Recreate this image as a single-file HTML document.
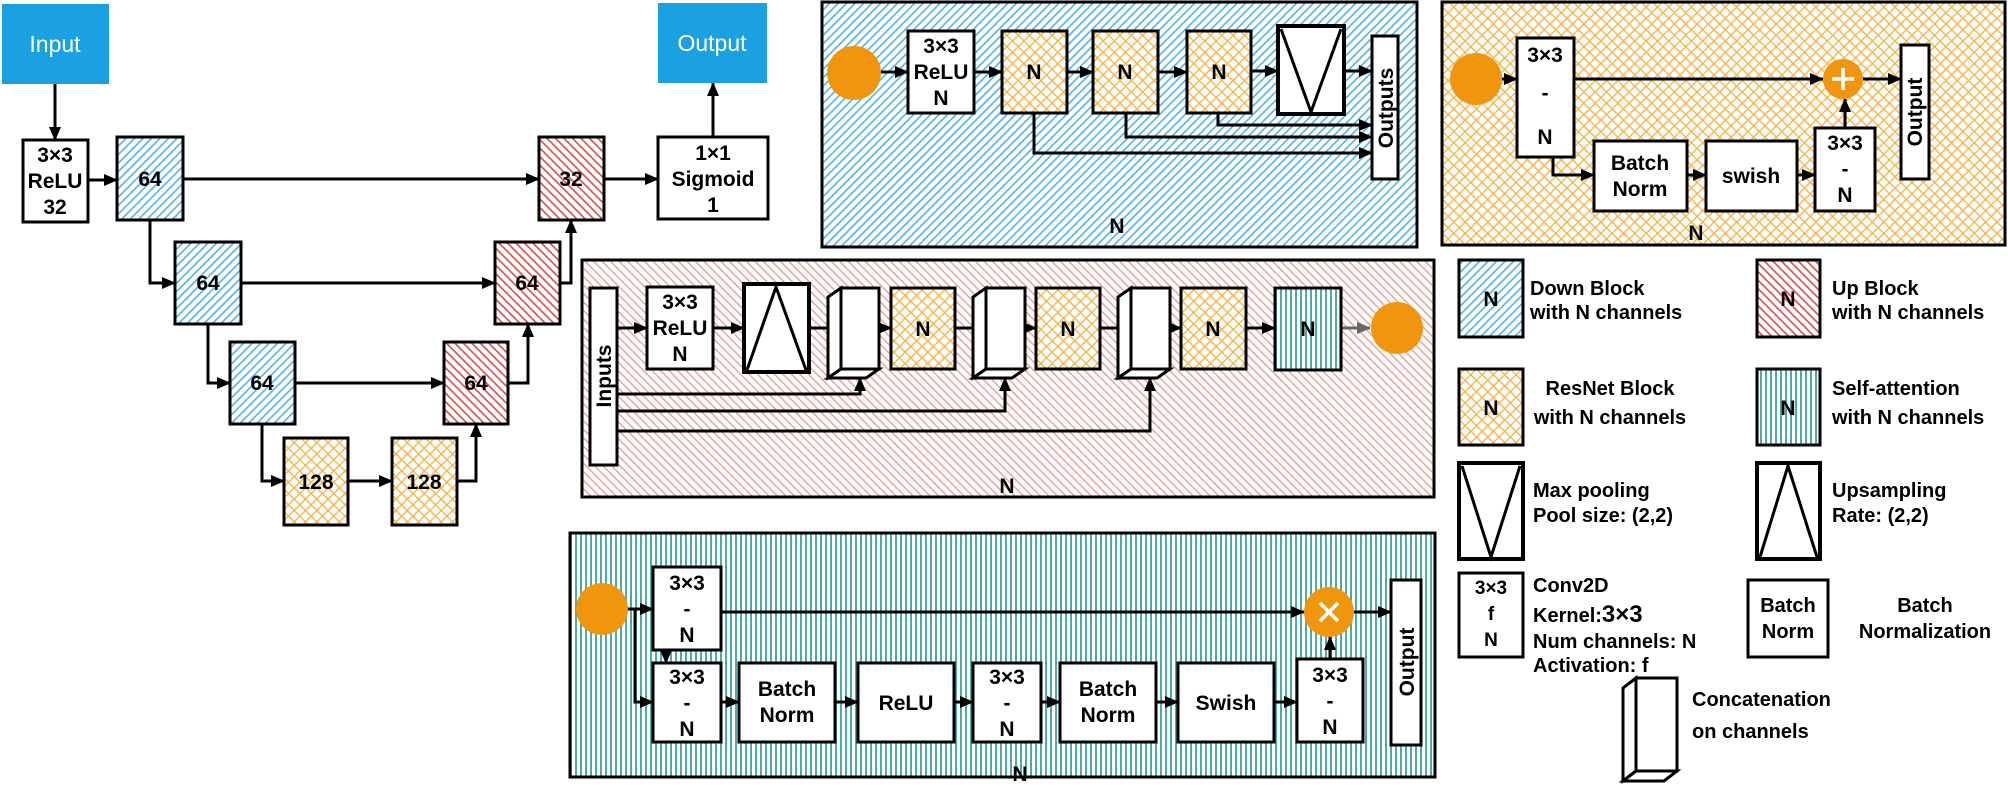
<!DOCTYPE html>
<html><head><meta charset="utf-8"><style>
html,body{margin:0;padding:0;background:#fff;}
svg{display:block;}
text{font-family:"Liberation Sans",Arial,sans-serif;font-weight:bold;fill:#000;}
</style></head><body>
<svg width="2008" height="787" viewBox="0 0 2008 787" xmlns="http://www.w3.org/2000/svg">
<defs>
<pattern id="pb" width="6" height="6" patternUnits="userSpaceOnUse" patternTransform="rotate(45)"><rect width="6" height="6" fill="#fff"/><line x1="1" y1="0" x2="1" y2="6" stroke="#4FB0E6" stroke-width="1.6"/></pattern>
<pattern id="pr" width="6" height="6" patternUnits="userSpaceOnUse" patternTransform="rotate(-45)"><rect width="6" height="6" fill="#fff"/><line x1="1" y1="0" x2="1" y2="6" stroke="#D44A4A" stroke-width="1.6"/></pattern>
<pattern id="pp" width="6" height="6" patternUnits="userSpaceOnUse" patternTransform="rotate(-45)"><rect width="6" height="6" fill="#fff"/><line x1="1" y1="0" x2="1" y2="6" stroke="#E7A2A2" stroke-width="1.5"/></pattern>
<pattern id="po" width="8" height="8" patternUnits="userSpaceOnUse" patternTransform="rotate(45)"><rect width="8" height="8" fill="#fff"/><line x1="1" y1="0" x2="1" y2="8" stroke="#F4B44C" stroke-width="1.4"/><line x1="0" y1="1" x2="8" y2="1" stroke="#F4B44C" stroke-width="1.4"/></pattern>
<pattern id="pt" width="5" height="5" patternUnits="userSpaceOnUse"><rect width="5" height="5" fill="#fff"/><line x1="1" y1="0" x2="1" y2="5" stroke="#2E9C96" stroke-width="1.7"/></pattern>
<marker id="a" markerWidth="14" markerHeight="12" refX="13" refY="6" orient="auto" markerUnits="userSpaceOnUse"><path d="M0,0 L14,6 L0,12 z" fill="#000"/></marker>
<marker id="g" markerWidth="14" markerHeight="12" refX="13" refY="6" orient="auto" markerUnits="userSpaceOnUse"><path d="M0,0 L14,6 L0,12 z" fill="#666"/></marker>
</defs>

<!-- Left U-Net -->
<g stroke="#000" stroke-width="3" fill="none" marker-end="url(#a)">
<path d="M55,84 V140"/><path d="M88,180 H117"/><path d="M183,179 H539"/><path d="M604,179 H658"/><path d="M713,137 V83"/>
<path d="M150,220 V283 H175"/><path d="M241,283 H495"/><path d="M560,283 H571 V220"/>
<path d="M208,324 V383 H230"/><path d="M295,383 H444"/><path d="M508,383 H528 V324"/>
<path d="M262,424 V481 H284"/><path d="M348,481 H392"/><path d="M457,481 H476 V424"/>
</g>
<rect x="2" y="4" width="107" height="80" fill="#1BA1E2"/>
<text x="55" y="52" text-anchor="middle" font-size="23" style="font-weight:normal;fill:#fff">Input</text>
<rect x="658" y="3" width="109" height="80" fill="#1BA1E2"/>
<text x="712" y="51" text-anchor="middle" font-size="23" style="font-weight:normal;fill:#fff">Output</text>
<g stroke="#000" stroke-width="3">
<rect x="23" y="140" width="65" height="82" fill="#fff"/>
<rect x="117" y="137" width="66" height="83" fill="url(#pb)"/>
<rect x="539" y="137" width="65" height="83" fill="url(#pr)"/>
<rect x="658" y="137" width="110" height="82" fill="#fff"/>
<rect x="175" y="242" width="66" height="82" fill="url(#pb)"/>
<rect x="495" y="242" width="65" height="82" fill="url(#pr)"/>
<rect x="230" y="342" width="65" height="82" fill="url(#pb)"/>
<rect x="444" y="342" width="64" height="82" fill="url(#pr)"/>
<rect x="284" y="438" width="64" height="87" fill="url(#po)"/>
<rect x="392" y="438" width="65" height="87" fill="url(#po)"/>
</g>
<g font-size="21" text-anchor="middle">
<text x="55" y="162">3×3</text><text x="55" y="188">ReLU</text><text x="55" y="214">32</text>
<text x="150" y="186">64</text><text x="571" y="186">32</text>
<text x="713" y="160">1×1</text><text x="713" y="186">Sigmoid</text><text x="713" y="212">1</text>
<text x="208" y="290">64</text><text x="527" y="290">64</text>
<text x="262" y="390">64</text><text x="476" y="390">64</text>
<text x="316" y="489">128</text><text x="424" y="489">128</text>
</g>

<!-- Blue panel -->
<rect x="822" y="2" width="595" height="245" fill="url(#pb)" stroke="#000" stroke-width="3"/>
<circle cx="854" cy="73" r="27" fill="#F0960E"/>
<g stroke="#000" stroke-width="3" fill="none" marker-end="url(#a)">
<path d="M881,72 H908"/><path d="M974,72 H1002"/><path d="M1067,72 H1093"/><path d="M1158,72 H1187"/><path d="M1251,71 H1278"/><path d="M1344,71 H1372"/>
<path d="M1218,113 V125 H1372"/><path d="M1126,113 V137 H1372"/><path d="M1034,113 V153 H1372"/>
</g>
<g stroke="#000" stroke-width="3">
<rect x="908" y="31" width="66" height="82" fill="#fff"/>
<rect x="1002" y="31" width="65" height="82" fill="url(#po)"/>
<rect x="1093" y="31" width="65" height="82" fill="url(#po)"/>
<rect x="1187" y="31" width="64" height="82" fill="url(#po)"/>
<rect x="1278" y="26" width="66" height="88" fill="#fff" stroke-width="4"/>
<path d="M1281,29 L1311,112 L1341,29" fill="none"/>
<rect x="1372" y="36" width="26" height="143" fill="#fff"/>
</g>
<g font-size="21" text-anchor="middle">
<text x="941" y="53">3×3</text><text x="941" y="79">ReLU</text><text x="941" y="105">N</text>
<text x="1034" y="79">N</text><text x="1125" y="79">N</text><text x="1219" y="79">N</text>
<text transform="translate(1393,108) rotate(-90)">Outputs</text>
<text x="1117" y="233">N</text>
</g>

<!-- Orange panel -->
<rect x="1442" y="2" width="563" height="243" fill="url(#po)" stroke="#000" stroke-width="3"/>
<circle cx="1476" cy="79" r="26" fill="#F0960E"/>
<g stroke="#000" stroke-width="3" fill="none" marker-end="url(#a)">
<path d="M1502,79 H1517"/><path d="M1574,79 H1823"/><path d="M1863,79 H1901"/>
<path d="M1553,157 V175 H1594"/><path d="M1687,175 H1706"/><path d="M1797,175 H1815"/><path d="M1845,128 V99"/>
</g>
<circle cx="1843" cy="79" r="20" fill="#F0960E"/>
<path d="M1843,68 V90 M1832,79 H1854" stroke="#fff" stroke-width="3.5"/>
<g stroke="#000" stroke-width="3" fill="#fff">
<rect x="1517" y="38" width="57" height="119"/>
<rect x="1594" y="141" width="93" height="70"/>
<rect x="1706" y="141" width="91" height="70"/>
<rect x="1815" y="128" width="60" height="83"/>
<rect x="1901" y="45" width="28" height="134"/>
</g>
<g font-size="21" text-anchor="middle">
<text x="1545" y="62">3×3</text><text x="1545" y="100">-</text><text x="1545" y="144">N</text>
<text x="1640" y="170">Batch</text><text x="1640" y="196">Norm</text>
<text x="1751" y="183">swish</text>
<text x="1845" y="150">3×3</text><text x="1845" y="176">-</text><text x="1845" y="202">N</text>
<text transform="translate(1922,112) rotate(-90)" text-anchor="middle">Output</text>
<text x="1696" y="240">N</text>
</g>

<!-- Pink panel -->
<rect x="582" y="260" width="852" height="237" fill="url(#pp)" stroke="#000" stroke-width="3"/>
<g stroke="#000" stroke-width="3" fill="none" marker-end="url(#a)">
<path d="M617,328 H647"/><path d="M713,328 H744"/><path d="M809,328 H841"/><path d="M879,328 H891"/><path d="M955,328 H986"/><path d="M1025,328 H1036"/><path d="M1100,328 H1131"/><path d="M1170,328 H1181"/><path d="M1246,328 H1275"/>
<path d="M617,394 H860 V378"/><path d="M617,411 H1005 V378"/><path d="M617,431 H1150 V378"/>
</g>
<path d="M1341,328 H1370" stroke="#666" stroke-width="3" marker-end="url(#g)"/>
<circle cx="1397" cy="328" r="26" fill="#F0960E"/>
<g stroke="#000" stroke-width="3">
<rect x="590" y="288" width="27" height="177" fill="#fff"/>
<rect x="647" y="287" width="66" height="82" fill="#fff"/>
<rect x="744" y="284" width="65" height="88" fill="#fff" stroke-width="4"/>
<path d="M747,370 L776,287 L806,370" fill="none"/>
<g fill="#fff">
<path d="M841,288 L828,297 L828,378 L841,369 Z"/><path d="M828,378 L866,378 L879,369 L841,369 Z"/><rect x="841" y="288" width="38" height="81"/>
<path d="M986,288 L973,297 L973,378 L986,369 Z"/><path d="M973,378 L1012,378 L1025,369 L986,369 Z"/><rect x="986" y="288" width="39" height="81"/>
<path d="M1131,288 L1118,297 L1118,378 L1131,369 Z"/><path d="M1118,378 L1157,378 L1170,369 L1131,369 Z"/><rect x="1131" y="288" width="39" height="81"/>
</g>
<rect x="891" y="288" width="64" height="81" fill="url(#po)"/>
<rect x="1036" y="288" width="64" height="81" fill="url(#po)"/>
<rect x="1181" y="288" width="65" height="81" fill="url(#po)"/>
<rect x="1275" y="288" width="66" height="82" fill="url(#pt)"/>
</g>
<g font-size="21" text-anchor="middle">
<text transform="translate(611,376) rotate(-90)">Inputs</text>
<text x="680" y="309">3×3</text><text x="680" y="335">ReLU</text><text x="680" y="361">N</text>
<text x="923" y="336">N</text><text x="1068" y="336">N</text><text x="1213" y="336">N</text><text x="1308" y="336">N</text>
<text x="1007" y="493">N</text>
</g>

<!-- Teal panel -->
<rect x="570" y="533" width="865" height="244" fill="url(#pt)" stroke="#000" stroke-width="3"/>
<circle cx="602" cy="609" r="26" fill="#F0960E"/>
<g stroke="#000" stroke-width="3" fill="none" marker-end="url(#a)">
<path d="M628,609 H653"/><path d="M666,650 V663"/><path d="M635,609 V702 H653"/>
<path d="M721,612 H1304"/><path d="M1354,612 H1391"/>
<path d="M721,702 H739"/><path d="M835,702 H858"/><path d="M954,702 H973"/><path d="M1041,702 H1060"/><path d="M1156,702 H1178"/><path d="M1274,702 H1297"/><path d="M1330,659 V637"/>
</g>
<circle cx="1329" cy="612" r="25" fill="#F0960E"/>
<path d="M1320,603 L1338,621 M1338,603 L1320,621" stroke="#fff" stroke-width="3.5"/>
<g stroke="#000" stroke-width="3" fill="#fff">
<rect x="653" y="567" width="68" height="83"/>
<rect x="653" y="663" width="68" height="79"/>
<rect x="739" y="663" width="96" height="79"/>
<rect x="858" y="663" width="96" height="79"/>
<rect x="973" y="663" width="68" height="79"/>
<rect x="1060" y="663" width="96" height="79"/>
<rect x="1178" y="663" width="96" height="79"/>
<rect x="1297" y="659" width="66" height="83"/>
<rect x="1391" y="580" width="30" height="165"/>
</g>
<g font-size="21" text-anchor="middle">
<text x="687" y="590">3×3</text><text x="687" y="616">-</text><text x="687" y="642">N</text>
<text x="687" y="684">3×3</text><text x="687" y="710">-</text><text x="687" y="736">N</text>
<text x="787" y="696">Batch</text><text x="787" y="722">Norm</text>
<text x="906" y="710">ReLU</text>
<text x="1007" y="684">3×3</text><text x="1007" y="710">-</text><text x="1007" y="736">N</text>
<text x="1108" y="696">Batch</text><text x="1108" y="722">Norm</text>
<text x="1226" y="710">Swish</text>
<text x="1330" y="682">3×3</text><text x="1330" y="708">-</text><text x="1330" y="734">N</text>
<text transform="translate(1414,662) rotate(-90)">Output</text>
<text x="1020" y="781">N</text>
</g>

<!-- Legend -->
<g stroke="#000" stroke-width="3">
<rect x="1459" y="260" width="64" height="77" fill="url(#pb)"/>
<rect x="1757" y="260" width="63" height="77" fill="url(#pr)"/>
<rect x="1459" y="369" width="64" height="76" fill="url(#po)"/>
<rect x="1757" y="369" width="63" height="76" fill="url(#pt)"/>
<rect x="1459" y="463" width="64" height="96" fill="#fff" stroke-width="4"/>
<path d="M1462,466 L1491,557 L1520,466" fill="none"/>
<rect x="1757" y="463" width="63" height="96" fill="#fff" stroke-width="4"/>
<path d="M1760,557 L1788,466 L1817,557" fill="none"/>
<rect x="1459" y="573" width="64" height="84" fill="#fff"/>
<rect x="1748" y="580" width="80" height="77" fill="#fff"/>
<g fill="#fff">
<path d="M1636,678 L1623,688 L1623,781 L1636,771 Z"/><path d="M1623,781 L1664,781 L1677,771 L1636,771 Z"/><rect x="1636" y="678" width="41" height="93"/>
</g>
</g>
<g font-size="20">
<text x="1491" y="306" text-anchor="middle" font-size="21">N</text>
<text x="1788" y="306" text-anchor="middle" font-size="21">N</text>
<text x="1491" y="415" text-anchor="middle" font-size="21">N</text>
<text x="1788" y="415" text-anchor="middle" font-size="21">N</text>
<text x="1491" y="594" text-anchor="middle" font-size="19">3×3</text>
<text x="1491" y="620" text-anchor="middle" font-size="19">f</text>
<text x="1491" y="646" text-anchor="middle" font-size="19">N</text>
<text x="1788" y="612" text-anchor="middle">Batch</text>
<text x="1788" y="638" text-anchor="middle">Norm</text>
<text x="1530" y="295">Down Block</text>
<text x="1530" y="319">with N channels</text>
<text x="1832" y="295">Up Block</text>
<text x="1832" y="319">with N channels</text>
<text x="1610" y="395" text-anchor="middle">ResNet Block</text>
<text x="1610" y="424" text-anchor="middle">with N channels</text>
<text x="1832" y="395">Self-attention</text>
<text x="1832" y="424">with N channels</text>
<text x="1533" y="497">Max pooling</text>
<text x="1533" y="522">Pool size: (2,2)</text>
<text x="1832" y="497">Upsampling</text>
<text x="1832" y="522">Rate: (2,2)</text>
<text x="1533" y="592">Conv2D</text>
<text x="1533" y="622">Kernel:<tspan font-size="24">3×3</tspan></text>
<text x="1533" y="648">Num channels: N</text>
<text x="1533" y="672">Activation: f</text>
<text x="1925" y="612" text-anchor="middle">Batch</text>
<text x="1925" y="638" text-anchor="middle">Normalization</text>
<text x="1692" y="706">Concatenation</text>
<text x="1692" y="738">on channels</text>
</g>
</svg>
</body></html>
